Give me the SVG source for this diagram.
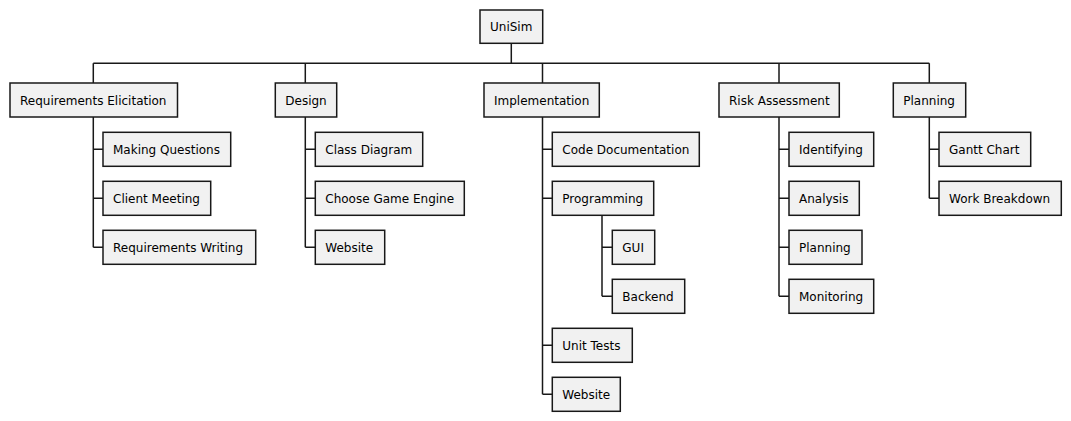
<svg xmlns="http://www.w3.org/2000/svg" width="1071" height="421" viewBox="0 0 1071 421">
<style>
rect{fill:#F1F1F1;stroke:#181818;stroke-width:1.5}
text{font-family:"DejaVu Sans",sans-serif;font-size:12px;fill:#000}
#connectors path{fill:none;stroke:#181818;stroke-width:1.5}
</style>
<rect x="0" y="0" width="1071" height="421" style="fill:#fff;stroke:none"/>
<g id="connectors">
<path d="M511.3,43.3V63.3M93.3,63.3H929.3M93.3,63.3V83M305.3,63.3V83M542.5,63.3V83M779,63.3V83M929.3,63.3V83"/>
<path d="M93.3,117V247.3M93.3,149.3H103M93.3,198.3H103M93.3,247.3H103"/>
<path d="M305.3,117V247.3M305.3,149.3H315.3M305.3,198.3H315.3M305.3,247.3H315.3"/>
<path d="M542.5,117V394.3M542.5,149.3H552.3M542.5,198.3H552.3M542.5,345.3H552.3M542.5,394.3H552.3"/>
<path d="M602,215V296.3M602,247.3H612.3M602,296.3H612.3"/>
<path d="M779,117V296.3M779,149.3H789M779,198.3H789M779,247.3H789M779,296.3H789"/>
<path d="M929.3,117V198.3M929.3,149.3H939M929.3,198.3H939"/>
</g>
<g id="n-unisim"><rect x="480" y="10" width="62.7" height="33.3"/><text x="490" y="31.3">UniSim</text></g>
<g id="n-req"><rect x="10" y="83" width="167.5" height="34"/><text x="20" y="104.5">Requirements Elicitation</text></g>
<g id="n-req-1"><rect x="103" y="132.3" width="127.7" height="34"/><text x="113" y="153.8">Making Questions</text></g>
<g id="n-req-2"><rect x="103" y="181.3" width="107.7" height="34"/><text x="113" y="202.8">Client Meeting</text></g>
<g id="n-req-3"><rect x="103" y="230.3" width="152.7" height="34"/><text x="113" y="251.8">Requirements Writing</text></g>
<g id="n-design"><rect x="275.3" y="83" width="61.4" height="34"/><text x="285.3" y="104.5">Design</text></g>
<g id="n-design-1"><rect x="315.3" y="132.3" width="107.4" height="34"/><text x="325.3" y="153.8">Class Diagram</text></g>
<g id="n-design-2"><rect x="315.3" y="181.3" width="149" height="34"/><text x="325.3" y="202.8">Choose Game Engine</text></g>
<g id="n-design-3"><rect x="315.3" y="230.3" width="69.4" height="34"/><text x="325.3" y="251.8">Website</text></g>
<g id="n-impl"><rect x="484" y="83" width="115.3" height="34"/><text x="494" y="104.5">Implementation</text></g>
<g id="n-impl-1"><rect x="552.3" y="132.3" width="147" height="34"/><text x="562.3" y="153.8">Code Documentation</text></g>
<g id="n-impl-2"><rect x="552.3" y="181.3" width="101.4" height="34"/><text x="562.3" y="202.8">Programming</text></g>
<g id="n-prog-1"><rect x="612.3" y="230.3" width="42.4" height="34"/><text x="622.3" y="251.8">GUI</text></g>
<g id="n-prog-2"><rect x="612.3" y="279.3" width="72.4" height="34"/><text x="622.3" y="300.8">Backend</text></g>
<g id="n-impl-3"><rect x="552.3" y="328.3" width="80" height="34"/><text x="562.3" y="349.8">Unit Tests</text></g>
<g id="n-impl-4"><rect x="552.3" y="377.3" width="68" height="34"/><text x="562.3" y="398.8">Website</text></g>
<g id="n-risk"><rect x="719" y="83" width="120.3" height="34"/><text x="729" y="104.5">Risk Assessment</text></g>
<g id="n-risk-1"><rect x="789" y="132.3" width="84.7" height="34"/><text x="799" y="153.8">Identifying</text></g>
<g id="n-risk-2"><rect x="789" y="181.3" width="70.3" height="34"/><text x="799" y="202.8">Analysis</text></g>
<g id="n-risk-3"><rect x="789" y="230.3" width="73" height="34"/><text x="799" y="251.8">Planning</text></g>
<g id="n-risk-4"><rect x="789" y="279.3" width="84.7" height="34"/><text x="799" y="300.8">Monitoring</text></g>
<g id="n-plan"><rect x="893.3" y="83" width="72.4" height="34"/><text x="903.3" y="104.5">Planning</text></g>
<g id="n-plan-1"><rect x="939" y="132.3" width="91.7" height="34"/><text x="949" y="153.8">Gantt Chart</text></g>
<g id="n-plan-2"><rect x="939" y="181.3" width="122.3" height="34"/><text x="949" y="202.8">Work Breakdown</text></g>
</svg>
